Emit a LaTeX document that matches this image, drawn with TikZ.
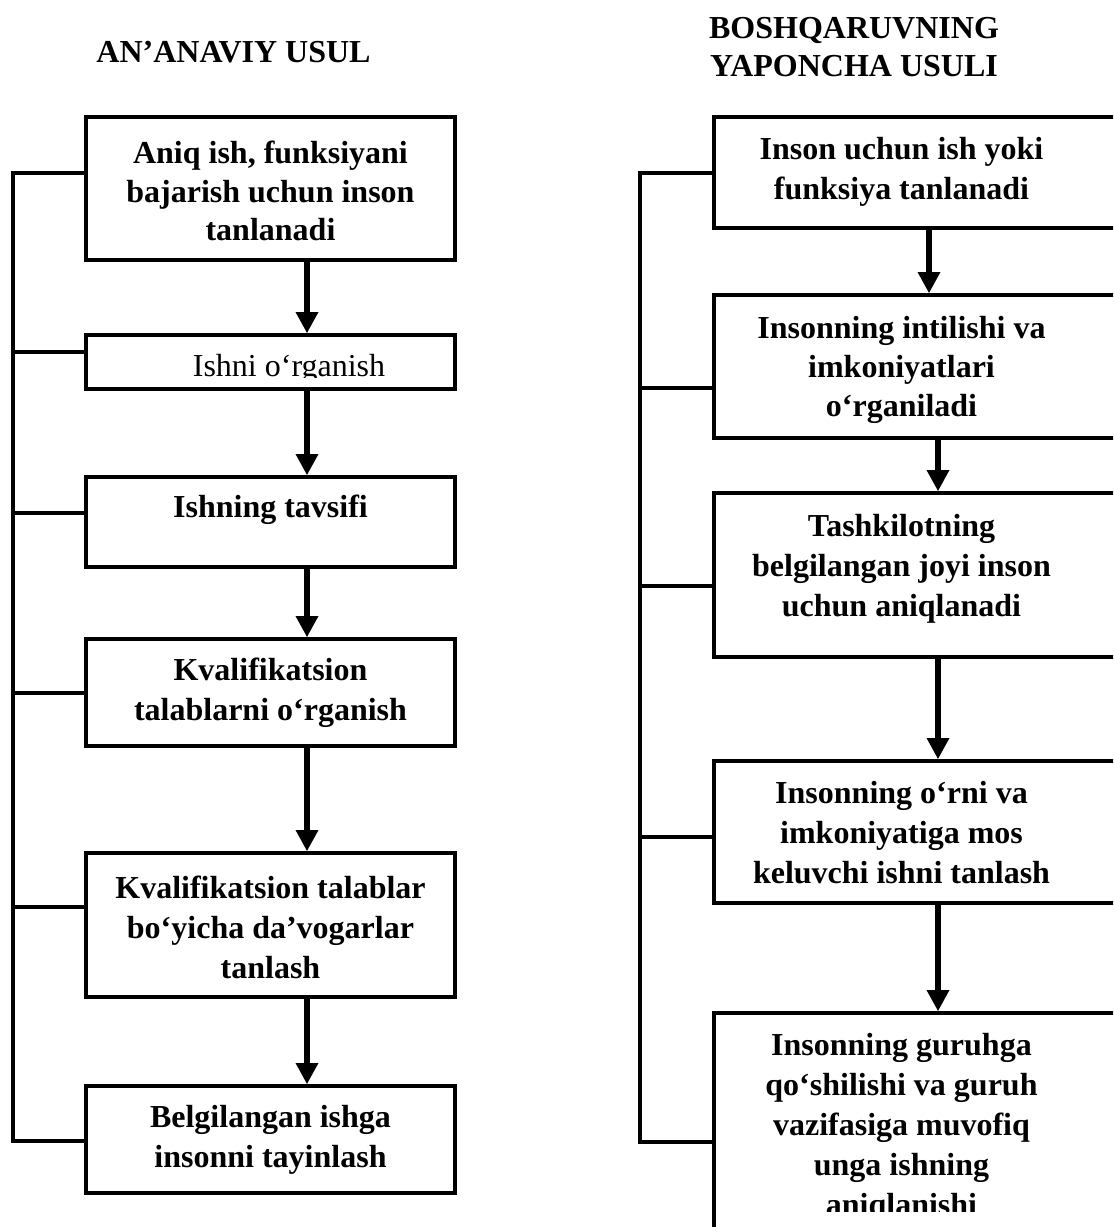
\documentclass[tikz,border=0pt]{standalone}
\usepackage{fontspec}
\setmainfont{Liberation Serif}
\usetikzlibrary{arrows.meta,fit}
\begin{document}
\begin{tikzpicture}[x=0.75pt,y=-0.75pt,
  box/.style={draw, line width=2.5pt, inner sep=0pt, rectangle, fill=white},
  txt/.style={align=center, inner sep=0pt, font=\bfseries\fontsize{24}{30}\selectfont},
  tight/.style={font=\bfseries\fontsize{24}{29}\selectfont},
  ttl/.style={align=center, inner sep=0pt, font=\bfseries\fontsize{24}{28.5}\selectfont},
  plain/.style={inner sep=0pt, font=\fontsize{24}{30}\selectfont},
  arr/.style={line width=5pt, -{Triangle[width=16pt,length=16pt]}},
  bus/.style={line width=3.6pt, line join=miter}]
\useasboundingbox (0,0) rectangle (1113,1227);
\clip (0,0) rectangle (1113,1227);
\fill[white] (0,0) rectangle (1113,1227);

% column headings
\node[ttl] (tL) at (233.5,52) {AN’ANAVIY USUL};
\node[ttl] (tR) at (854,47) {BOSHQARUVNING\\YAPONCHA USULI};

% traditional method: boxes
\node[box, fit={(86,117)(455,260)}] (L1) {};
\node[box, fit={(86,335)(455,389)}] (L2) {};
\node[box, fit={(86,477)(455,567)}] (L3) {};
\node[box, fit={(86,639)(455,746)}] (L4) {};
\node[box, fit={(86,853)(455,997)}] (L5) {};
\node[box, fit={(86,1086)(455,1193)}] (L6) {};

\node[txt, tight] (l1) at (270.5,191) {Aniq ish, funksiyani\\bajarish uchun inson\\tanlanadi};
\begin{scope}
  \clip (86,335) rectangle (455,377.5);
  \node[plain, anchor=base] (l2) at (289,376) {Ishni o‘rganish};
\end{scope}
\node[txt] (l3) at (270.5,510) {Ishning tavsifi};
\node[txt] (l4) at (270.5,693) {Kvalifikatsion\\talablarni o‘rganish};
\node[txt] (l5) at (270.5,927) {Kvalifikatsion talablar\\bo‘yicha da’vogarlar\\tanlash};
\node[txt] (l6) at (270.5,1140) {Belgilangan ishga\\insonni tayinlash};

% Japanese method: boxes
\node[box, fit={(714,117)(1140,228)}] (R1) {};
\node[box, fit={(714,295)(1140,438)}] (R2) {};
\node[box, fit={(714,493)(1140,657)}] (R3) {};
\node[box, fit={(714,761)(1140,903)}] (R4) {};
\node[box, fit={(714,1013)(1140,1260)}] (R5) {};

\node[txt] (r1) at (901.5,172) {Inson uchun ish yoki\\funksiya tanlanadi};
\node[txt, tight] (r2) at (901.5,370) {Insonning intilishi va\\imkoniyatlari\\o‘rganiladi};
\node[txt] (r3) at (901.5,569) {Tashkilotning\\belgilangan joyi inson\\uchun aniqlanadi};
\node[txt] (r4) at (901.5,833) {Insonning o‘rni va\\imkoniyatiga mos\\keluvchi ishni tanlash};
\begin{scope}
  \clip (714,1013) rectangle (1113,1211);
  \node[txt] (r5) at (901.5,1128) {Insonning guruhga\\qo‘shilishi va guruh\\vazifasiga muvofiq\\unga ishning\\aniqlanishi};
\end{scope}

% flow arrows
\coordinate (axL) at (307,0);
\coordinate (axR1) at (929,0);
\coordinate (axR) at (938,0);
\draw[arr] (L1.south -| axL) -- (L2.north -| axL);
\draw[arr] (L2.south -| axL) -- (L3.north -| axL);
\draw[arr] (L3.south -| axL) -- (L4.north -| axL);
\draw[arr] (L4.south -| axL) -- (L5.north -| axL);
\draw[arr] (L5.south -| axL) -- (L6.north -| axL);
\draw[arr] (R1.south -| axR1) -- (R2.north -| axR1);
\draw[arr] (R2.south -| axR) -- (R3.north -| axR);
\draw[arr] (R3.south -| axR) -- (R4.north -| axR);
\draw[arr] (R4.south -| axR) -- (R5.north -| axR);

% left-hand feedback buses
\coordinate (lt1) at (13,173);
\coordinate (lt2) at (13,352);
\coordinate (lt3) at (13,513);
\coordinate (lt4) at (13,693);
\coordinate (lt5) at (13,907);
\coordinate (lt6) at (13,1141);
\draw[bus] (lt1 -| L1.west) -- (lt1) -- (lt6) -- (lt6 -| L6.west);
\foreach \i in {2,3,4,5} \draw[bus] (lt\i) -- (lt\i -| L\i.west);

\coordinate (rt1) at (640,173);
\coordinate (rt2) at (640,388);
\coordinate (rt3) at (640,586);
\coordinate (rt4) at (640,837);
\coordinate (rt5) at (640,1142);
\draw[bus] (rt1 -| R1.west) -- (rt1) -- (rt5) -- (rt5 -| R5.west);
\foreach \i in {2,3,4} \draw[bus] (rt\i) -- (rt\i -| R\i.west);
\end{tikzpicture}
\end{document}
